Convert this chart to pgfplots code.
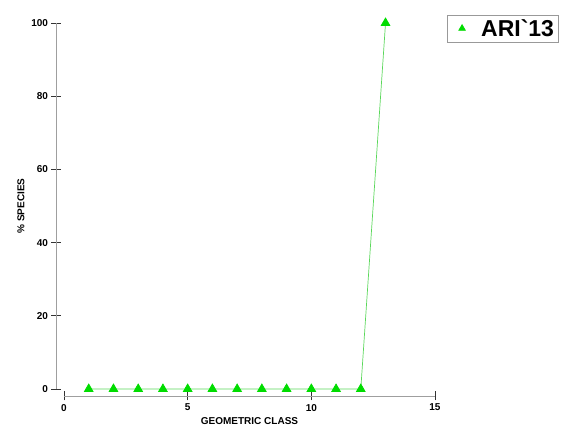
\documentclass[border=0pt]{standalone}
\usepackage{fontspec}
\setmainfont{Liberation Sans}
\usepackage{pgfplots}
\pgfplotsset{compat=1.18}
\definecolor{mygreen}{RGB}{0,220,0}
\definecolor{linegreen}{RGB}{90,215,90}
\begin{document}
\begin{tikzpicture}
\begin{axis}[
  name=ax,
  scale only axis, width=371pt, height=366pt,
  xmin=0, xmax=15, ymin=0, ymax=100,
  axis x line=bottom, axis y line=left,
  axis x line shift=7pt, axis y line shift=8pt,
  axis line style={-, draw=gray!75, line width=0.8pt},
  xtick={0,5,10,15}, ytick={0,20,40,60,80,100},
  tick align=center, major tick length=9pt,
  tick style={black!80, line width=0.6pt},
  ticklabel style={font=\fontsize{10}{12}\selectfont\bfseries},
  /pgf/number format/assume math mode=true,
  xlabel={GEOMETRIC CLASS}, ylabel={\% SPECIES},
  label style={font=\fontsize{10}{12}\selectfont\bfseries},
  clip=false,
  legend style={at={(1.032,1.022)}, anchor=north west, draw=gray!80, line width=0.8pt,
    font=\fontsize{23}{25}\selectfont\bfseries, inner xsep=2pt, inner ysep=2.5pt},
  legend image code/.code={%
    \path[draw=none] (0cm,0cm) -- (1.05cm,0cm);
    \path[#1, draw=none, mark size=3.8pt] plot coordinates {(0.45cm,0.02cm)};},
]
\addplot[color=linegreen, line width=0.7pt, mark=triangle*, mark size=5pt,
  mark options={fill=mygreen, draw=mygreen, solid}]
  coordinates {(1,0) (2,0) (3,0) (4,0) (5,0) (6,0) (7,0) (8,0) (9,0) (10,0) (11,0) (12,0) (13,100)};
\addlegendentry{ARI\textasciigrave13}
\end{axis}
\path[use as bounding box] (ax.south west) ++(-64pt,-38pt) rectangle ++(566pt,427pt);
\end{tikzpicture}
\end{document}
